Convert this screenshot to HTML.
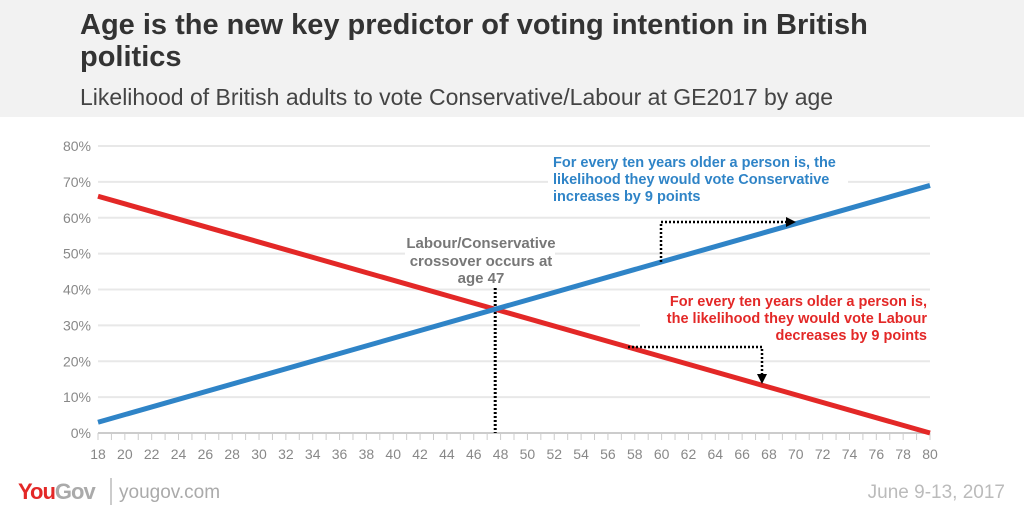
<!DOCTYPE html>
<html><head><meta charset="utf-8"><style>
body{margin:0;width:1024px;height:512px;overflow:hidden;background:#fff;font-family:"Liberation Sans",sans-serif}
#hdr{position:absolute;left:0;top:0;width:1024px;height:117px;background:#f2f2f2}
#title{position:absolute;left:80px;top:9px;font-size:29px;font-weight:bold;color:#333;line-height:32px;width:900px}
#sub{position:absolute;left:80px;top:84px;font-size:23px;color:#444}
svg{position:absolute;left:0;top:0}
</style></head><body>
<div id="hdr"></div>
<div id="title">Age is the new key predictor of voting intention in British<br>politics</div>
<div id="sub">Likelihood of British adults to vote Conservative/Labour at GE2017 by age</div>
<svg id="chart" width="1024" height="512"></svg>
<script>
const ages=[18,80];
const conValues=[3,69];
const labValues=[66,0];
const yTicks=[0,10,20,30,40,50,60,70,80];
const xLabels=[18,20,22,24,26,28,30,32,34,36,38,40,42,44,46,48,50,52,54,56,58,60,62,64,66,68,70,72,74,76,78,80];
const crossoverAge=47.6;
const NS="http://www.w3.org/2000/svg";
const svg=document.getElementById('chart');
const X=a=>98+(a-18)*(930-98)/62;
const Y=v=>433-v*(433-146)/80;
function el(t,at,txt){const e=document.createElementNS(NS,t);for(const k in at)e.setAttribute(k,at[k]);if(txt!=null)e.textContent=txt;svg.appendChild(e);return e;}
yTicks.forEach(v=>{
 if(v>0){const g=el('line',{x1:98,x2:930,y1:Y(v),y2:Y(v),stroke:'#e8e8e8','stroke-width':2});
 
 }
 const t=el('text',{x:91,y:Y(v)+5,'text-anchor':'end','font-size':14,fill:'#888'},v+'%');
 
 
});
const ax=el('line',{x1:98,x2:930,y1:433,y2:433,stroke:'#ccc','stroke-width':2});


for(let a=18;a<=80;a++){const tk=el('line',{x1:X(a),x2:X(a),y1:433,y2:440,stroke:'#ccc','stroke-width':1});
 
 }
xLabels.forEach(a=>{const t=el('text',{x:X(a),y:459,'text-anchor':'middle','font-size':14,fill:'#888'},a);
 
 });
const bx=el('rect',{x:405,y:234,width:150,height:52,fill:'#fff'});


const cb=el('rect',{x:548,y:152,width:300,height:54,fill:'#fff'});


const lb=el('rect',{x:640,y:292,width:290,height:52,fill:'#fff'});


[['Labour/Conservative',248],['crossover occurs at',266],['age 47',283]].forEach(([s,y])=>{
 const t=el('text',{x:481,y:y,'text-anchor':'middle','font-size':15,'font-weight':'bold',fill:'#777'},s);
 
 });
const cl=el('line',{x1:X(crossoverAge),x2:X(crossoverAge),y1:288,y2:433,stroke:'#000','stroke-width':3,'stroke-dasharray':'2,2'});


const lab=el('polyline',{points:ages.map((a,i)=>X(a)+','+Y(labValues[i])).join(' '),fill:'none',stroke:'#e32827','stroke-width':5});


const con=el('polyline',{points:ages.map((a,i)=>X(a)+','+Y(conValues[i])).join(' '),fill:'none',stroke:'#2f84c7','stroke-width':5});


const ca=el('polyline',{points:'661,262 661,222 788,222',fill:'none',stroke:'#000','stroke-width':2.5,'stroke-dasharray':'2,2'});


const ch=el('polygon',{points:'786,217 796,222 786,227',fill:'#000'});


const la=el('polyline',{points:'628,347 762,347 762,376',fill:'none',stroke:'#000','stroke-width':2.5,'stroke-dasharray':'2,2'});


const lh=el('polygon',{points:'757,374 762,384 767,374',fill:'#000'});


[['For every ten years older a person is, the',167],['likelihood they would vote Conservative',184],['increases by 9 points',201]].forEach(([s,y])=>{
 const t=el('text',{x:553,y:y,'font-size':14.5,'font-weight':'bold',fill:'#2f84c7'},s);
 
 });
[['For every ten years older a person is,',306],['the likelihood they would vote Labour',323],['decreases by 9 points',340]].forEach(([s,y])=>{
 const t=el('text',{x:927,y:y,'text-anchor':'end','font-size':14.5,'font-weight':'bold',fill:'#e32827'},s);
 
 });
const lg=el('text',{x:18,y:499,'font-size':22,'font-weight':'bold','letter-spacing':'-1'});


lg.innerHTML='<tspan fill="#e32827">You</tspan><tspan fill="#aaa">Gov</tspan>';
const sp=el('line',{x1:111,x2:111,y1:478,y2:505,stroke:'#bbb','stroke-width':1.5});


const url=el('text',{x:119,y:498,'font-size':19,fill:'#aaa'},'yougov.com');


const dt=el('text',{x:1005,y:498,'text-anchor':'end','font-size':19,fill:'#bbb'},'June 9-13, 2017');


</script>
</body></html>
